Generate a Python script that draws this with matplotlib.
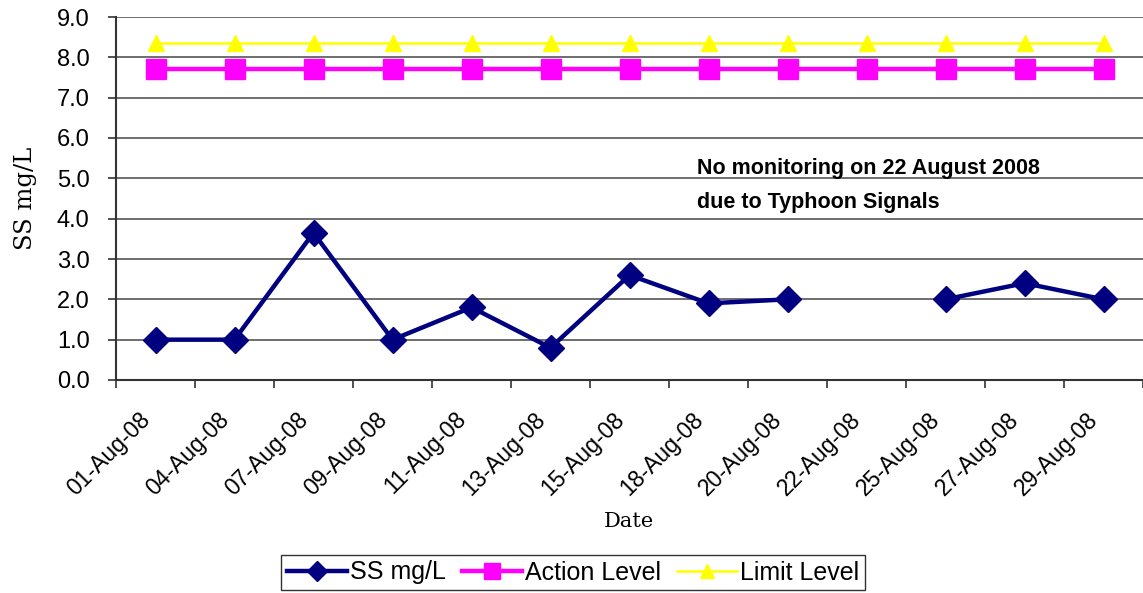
import numpy as np
import matplotlib.pyplot as plt
import matplotlib.transforms as mtransforms

# data
dates = ['01-Aug-08', '04-Aug-08', '07-Aug-08', '09-Aug-08', '11-Aug-08',
         '13-Aug-08', '15-Aug-08', '18-Aug-08', '20-Aug-08', '22-Aug-08',
         '25-Aug-08', '27-Aug-08', '29-Aug-08']
ss_values = [1.0, 1.0, 3.65, 1.0, 1.8, 0.8, 2.6, 1.9, 2.0, np.nan, 2.0, 2.4, 2.0]
action_level = [7.7] * len(dates)
limit_level = [8.35] * len(dates)
y_ticks = [0.0, 1.0, 2.0, 3.0, 4.0, 5.0, 6.0, 7.0, 8.0, 9.0]
note_lines = ['No monitoring on 22 August 2008', 'due to Typhoon Signals']

plt.rcParams['font.family'] = ['Liberation Sans', 'DejaVu Sans']

fig = plt.figure(figsize=(11.43, 5.93), dpi=100)
ax = fig.add_axes([116 / 1143, 1 - 380 / 593, 1 - 116 / 1143, 363 / 593])

x = np.arange(len(dates))
ax.plot(x, ss_values, color='#000080', linewidth=3.2, marker='D', markersize=13,
        label='SS mg/L')
ax.plot(x, action_level, color='#FF00FF', linewidth=3.2, marker='s', markersize=14,
        label='Action Level')
ax.plot(x, limit_level, color='#FFFF00', linewidth=1.8, marker='^', markersize=12,
        label='Limit Level')

ax.set_xlim(-0.5, len(dates) - 0.5)
ax.set_ylim(0, 9)
ax.set_yticks(y_ticks)
ax.set_yticklabels([f'{v:.1f}' for v in y_ticks], fontsize=17)
ax.yaxis.grid(True, color='#555555', linewidth=1.2)
ax.set_axisbelow(True)

# category labels at centres, tick marks at the boundaries
ax.set_xticks(x)
ax.set_xticklabels(dates, rotation=45, ha='right', va='top', rotation_mode='anchor',
                   fontsize=16.5)
ax.tick_params(axis='x', length=0, pad=20)
shift = mtransforms.ScaledTranslation(-0.17, 0, fig.dpi_scale_trans)
for lbl in ax.get_xticklabels():
    lbl.set_transform(lbl.get_transform() + shift)
ax.set_xticks(np.arange(len(dates) + 1) - 0.5, minor=True)
ax.tick_params(axis='x', which='minor', length=6, width=1.2, color='#333333')
ax.tick_params(axis='y', length=6, width=1.2, color='#333333', pad=13)

for s in ['top', 'right']:
    ax.spines[s].set_visible(False)
for s in ['left', 'bottom']:
    ax.spines[s].set_color('#333333')
    ax.spines[s].set_linewidth(1.5)

ax.text(6.86, 5.25, note_lines[0], fontsize=15.5, fontweight='bold', va='center',
        ha='left', family=['Liberation Sans Narrow', 'Liberation Sans'])
ax.text(6.86, 4.39, note_lines[1], fontsize=15.5, fontweight='bold', va='center',
        ha='left', family=['Liberation Sans Narrow', 'Liberation Sans'])

ax.set_ylabel('SS mg/L', family=['DejaVu Serif'], fontsize=17.5)
ax.yaxis.set_label_coords(-0.077, 0.5)
ax.set_xlabel('Date', family=['DejaVu Serif'], fontsize=15)
ax.xaxis.set_label_coords(0.4995, -0.363)

leg = fig.legend(loc='center', bbox_to_anchor=(573 / 1143, 1 - 572.5 / 593), ncol=3,
                 fontsize=18, frameon=True, fancybox=False, handlelength=2.4,
                 handletextpad=0.12, columnspacing=0.65, borderpad=0.22,
                 borderaxespad=0, markerscale=0.8)
leg.get_frame().set_edgecolor('black')
leg.get_frame().set_linewidth(1.0)

fig.savefig('out.png', dpi=100)
